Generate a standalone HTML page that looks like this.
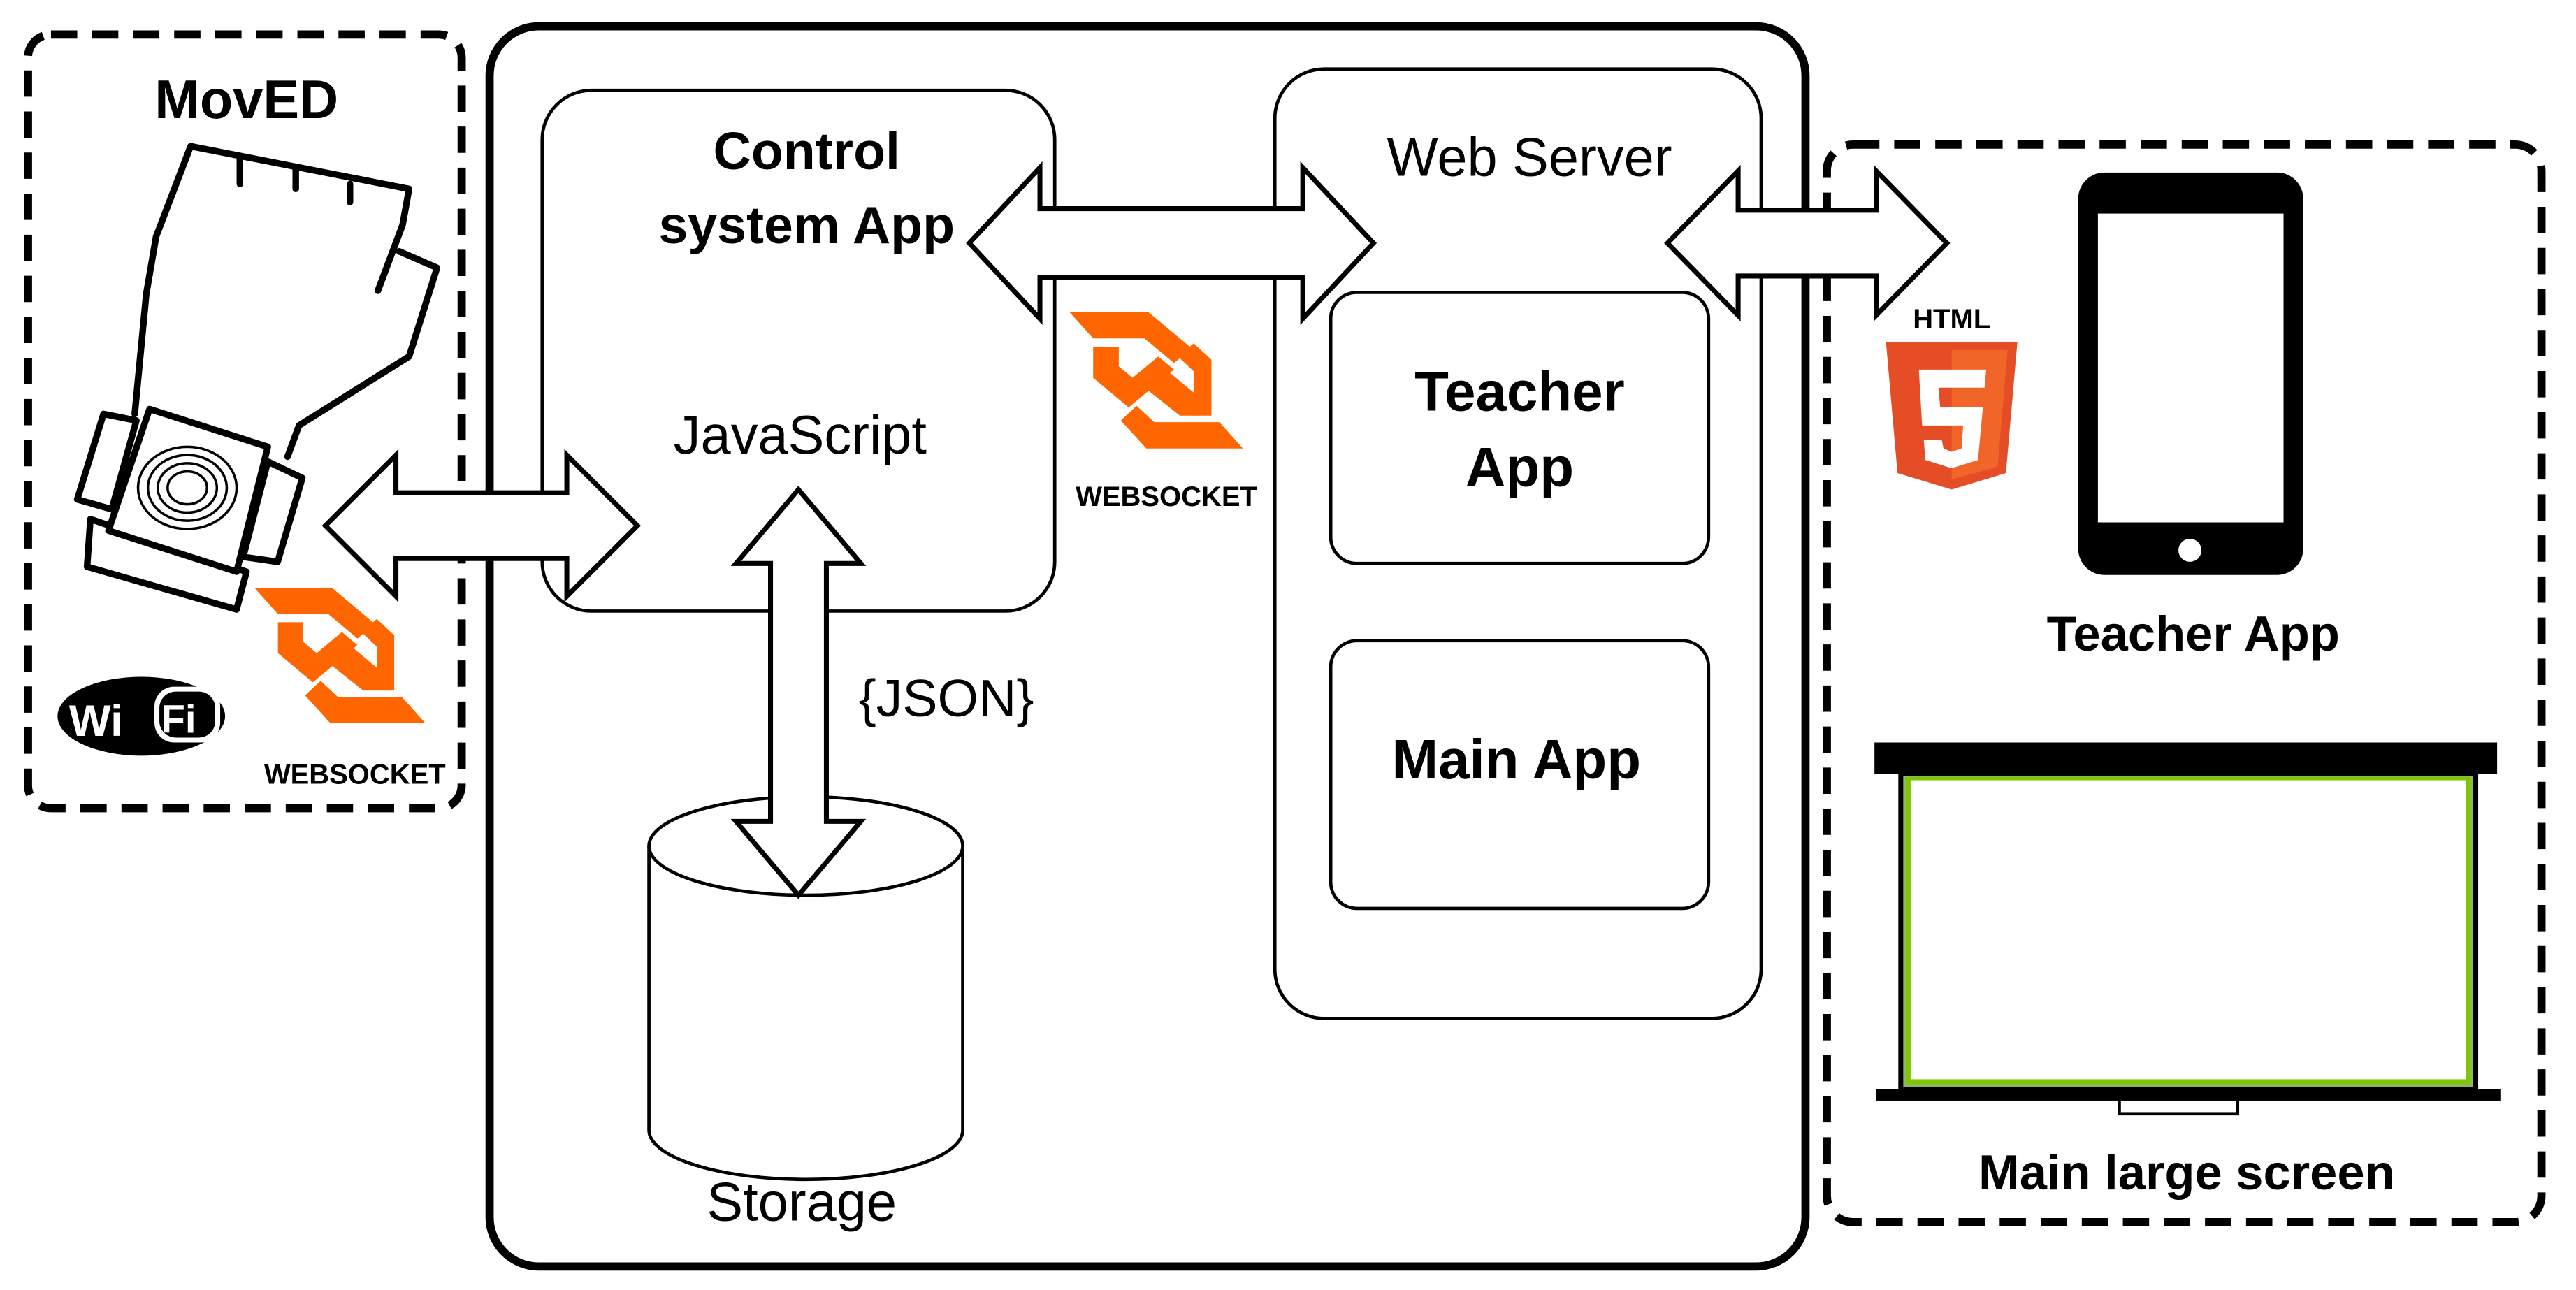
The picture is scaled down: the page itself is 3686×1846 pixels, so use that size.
<!DOCTYPE html>
<html><head><meta charset="utf-8"><style>
html,body{margin:0;padding:0;background:#fff;}
svg{display:block;}
text{font-family:"Liberation Sans","DejaVu Sans",sans-serif;}
</style></head><body>
<svg width="3686" height="1846" viewBox="0 0 1568 785.3" xmlns="http://www.w3.org/2000/svg">
<defs>
<g id="ws">
<polygon points="0,0 40,0 62,22 53,31 38,16 12,16" fill="#ff6600"/>
<polygon points="12,21 25,21 25,33 32,40 45,27 53,35 30,58 12,40" fill="#ff6600"/>
<polygon points="36,37 44,30 64,50 64,63 56,63 36,44" fill="#ff6600"/>
<polygon points="55,27 63,19 72,29 72,63 63,63 63,36" fill="#ff6600"/>
<polygon points="26,66 34,57 43,67 76,67 88,83 39,83" fill="#ff6600"/>
</g>
</defs>

<rect x="17" y="21" width="264" height="471" rx="14" fill="none" stroke="#000" stroke-width="5" stroke-dasharray="16,9"/>
<rect x="298" y="16" width="801" height="755" rx="30" fill="none" stroke="#000" stroke-width="5"/>
<rect x="1112" y="88" width="435" height="656" rx="16" fill="none" stroke="#000" stroke-width="5" stroke-dasharray="16,9"/>

<rect x="330" y="55" width="312" height="317" rx="30" fill="none" stroke="#000" stroke-width="2"/>
<rect x="776" y="42" width="296" height="578" rx="30" fill="none" stroke="#000" stroke-width="2"/>
<rect x="810" y="178" width="230" height="165" rx="16" fill="none" stroke="#000" stroke-width="2"/>
<rect x="810" y="390" width="230" height="163" rx="16" fill="none" stroke="#000" stroke-width="2"/>

<path d="M395,515 L395,688 A95.5,30 0 0 0 586,688 L586,515" fill="#fff" stroke="#000" stroke-width="2"/>
<ellipse cx="490.5" cy="515" rx="95.5" ry="30" fill="#fff" stroke="#000" stroke-width="2"/>

<path d="M198,320 L241,277 L241,300 L345,300 L345,277 L388,320 L345,363 L345,340 L241,340 L241,363 Z" fill="#fff" stroke="#000" stroke-width="3"/>
<path d="M590,148 L633,102 L633,127 L793,127 L793,102 L836,148 L793,194 L793,169 L633,169 L633,194 Z" fill="#fff" stroke="#000" stroke-width="3"/>
<path d="M1015,148 L1058,104 L1058,128 L1142,128 L1142,104 L1185,148 L1142,192 L1142,168 L1058,168 L1058,192 Z" fill="#fff" stroke="#000" stroke-width="3"/>
<path d="M486,298 L524,343 L503,343 L503,500 L524,500 L486,545 L448,500 L469,500 L469,343 L448,343 Z" fill="#fff" stroke="#000" stroke-width="3"/>

<text x="150" y="72" font-size="33" font-weight="bold" text-anchor="middle">MovED</text>
<text x="491" y="103" font-size="32" font-weight="bold" text-anchor="middle">Control</text>
<text x="491" y="148" font-size="32" font-weight="bold" text-anchor="middle">system App</text>
<text x="487" y="276" font-size="33" text-anchor="middle">JavaScript</text>
<text x="931" y="107" font-size="33" text-anchor="middle">Web Server</text>
<text x="925" y="250" font-size="34" font-weight="bold" text-anchor="middle">Teacher</text>
<text x="925" y="296" font-size="34" font-weight="bold" text-anchor="middle">App</text>
<text x="923" y="474" font-size="34" font-weight="bold" text-anchor="middle">Main App</text>
<text x="576" y="436" font-size="32" text-anchor="middle">{JSON}</text>
<text x="488" y="743" font-size="33" text-anchor="middle">Storage</text>
<text x="1335" y="396" font-size="30" font-weight="bold" text-anchor="middle">Teacher App</text>
<text x="1331" y="724" font-size="30" font-weight="bold" text-anchor="middle">Main large screen</text>

<use href="#ws" transform="translate(651,190) scale(1.2,1)"/>
<text x="710" y="308" font-size="17" font-weight="bold" text-anchor="middle">WEBSOCKET</text>
<use href="#ws" transform="translate(155,358) scale(1.18,0.99)"/>
<text x="216" y="477" font-size="17" font-weight="bold" text-anchor="middle">WEBSOCKET</text>

<ellipse cx="86" cy="436" rx="51" ry="24" fill="#000"/>
<text x="42" y="448" font-size="27" font-weight="bold" fill="#fff">Wi</text>
<rect x="94" y="418" width="40" height="34" rx="12" fill="#fff"/>
<rect x="97" y="421" width="34" height="28" rx="10" fill="#000"/>
<text x="98" y="446" font-size="24" font-weight="bold" fill="#fff">Fi</text>

<g fill="none" stroke="#000" stroke-width="4" stroke-linejoin="round" stroke-linecap="round">
<path d="M82,252 L89,179 L95,144 L116,89 L249,115 L245,137 L230,177"/>
<path d="M243,153 L266,163 L249,217 L182,259 L175,278"/>
<path d="M146,96 L146,112 M180,102 L180,115 M213,112 L213,123"/>
<polygon points="63,252 83,256 68,310 47,304" fill="#fff"/>
<polygon points="55,316 150,348 144,371 53,345" fill="#fff"/>
<polygon points="91,249 163,272 144,348 66,323" fill="#fff"/>
<polygon points="163,281 184,291 169,342 148,339" fill="#fff"/>
</g>
<g fill="none" stroke="#000" stroke-width="1.5">
<ellipse cx="114" cy="297" rx="30" ry="25"/>
<ellipse cx="114" cy="297" rx="24" ry="20"/>
<ellipse cx="114" cy="297" rx="18" ry="15"/>
<ellipse cx="114" cy="297" rx="12" ry="10"/>
</g>

<text x="1188" y="200" font-size="17" font-weight="bold" text-anchor="middle">HTML</text>
<polygon points="1148,208 1228,208 1221,288 1188,298 1155,288" fill="#e44d26"/>
<polygon points="1188,213 1222,213 1216,284 1188,292" fill="#f16529"/>
<path d="M1168,225 L1209,225 L1208,236 L1180,236 L1181,248 L1207,248 L1204,280 L1188,285 L1172,280 L1171,268 L1182,268 L1183,273 L1188,275 L1194,273 L1195,259 L1170,259 Z" fill="#fff"/>

<rect x="1265" y="105" width="137" height="245" rx="16" fill="#000"/>
<rect x="1277" y="130" width="113" height="188" fill="#fff"/>
<circle cx="1333" cy="335" r="7" fill="#fff"/>

<rect x="1141" y="452" width="379" height="19" fill="#000"/>
<rect x="1157" y="471" width="350" height="192" fill="#8fb56a"/>
<rect x="1157" y="471" width="350" height="192" fill="none" stroke="#000" stroke-width="3"/>
<rect x="1160" y="473" width="344" height="187" fill="#7ec700"/>
<rect x="1163" y="475" width="338" height="182" fill="#fff"/>
<rect x="1142" y="663" width="380" height="7" fill="#000"/>
<rect x="1290" y="669" width="72" height="9" fill="#fff" stroke="#000" stroke-width="2"/>
</svg>
</body></html>
